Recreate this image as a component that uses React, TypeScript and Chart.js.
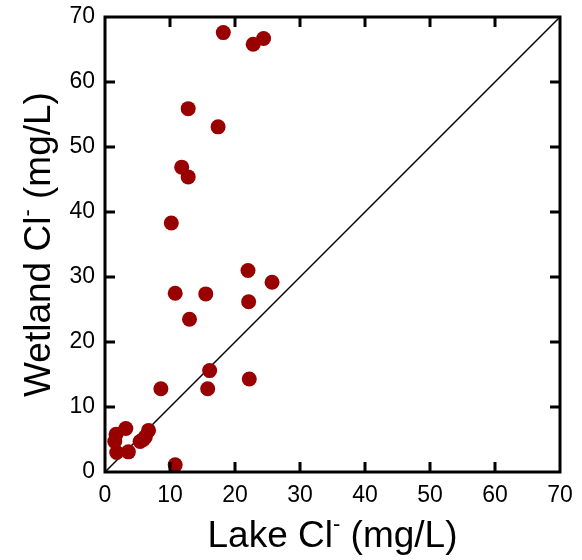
import React, { useEffect, useRef } from "react";
import { Chart, registerables } from "chart.js";

Chart.register(...registerables);

const lakeCl = [18.2, 22.8, 24.4, 12.8, 17.4, 11.8, 12.8, 10.2, 22.0, 25.7, 10.8, 15.5, 22.1, 13.0, 16.1, 22.2, 8.6, 15.8, 10.8, 1.7, 3.2, 1.5, 1.8, 3.6, 5.4, 6.7, 6.2, 5.9];
const wetlandCl = [67.6, 65.8, 66.7, 55.9, 53.1, 46.9, 45.4, 38.3, 31.0, 29.2, 27.5, 27.4, 26.2, 23.5, 15.6, 14.3, 12.8, 12.8, 1.1, 5.8, 6.7, 4.7, 3.0, 3.1, 4.7, 6.4, 5.4, 5.0];
const oneToOneX = [0, 70];
const oneToOneY = [0, 70];
const axisMin = 0;
const axisMax = 70;
const tickValues = [10, 20, 30, 40, 50, 60];
const xTitleParts = ["Lake Cl", "-", " (mg/L)"];
const yTitleParts = ["Wetland Cl", "-", " (mg/L)"];

const FONT = "'Liberation Sans', Arial, sans-serif";

function drawSupTitle(ctx: CanvasRenderingContext2D, parts: string[], size: number) {
  ctx.font = `${size}px ${FONT}`;
  const w0 = ctx.measureText(parts[0]).width;
  const w2 = ctx.measureText(parts[2]).width;
  const supSize = Math.round(size * 0.6);
  ctx.font = `${supSize}px ${FONT}`;
  const w1 = ctx.measureText(parts[1]).width;
  const total = w0 + w1 + w2;
  let x = -total / 2;
  ctx.textAlign = "left";
  ctx.textBaseline = "alphabetic";
  ctx.font = `${size}px ${FONT}`;
  ctx.fillText(parts[0], x, 0);
  x += w0;
  ctx.font = `${supSize}px ${FONT}`;
  ctx.fillText(parts[1], x, -size * 0.42);
  x += w1;
  ctx.font = `${size}px ${FONT}`;
  ctx.fillText(parts[2], x, 0);
}

const framePlugin = {
  id: "framePlugin",
  afterDraw(chart: any) {
    const { ctx, chartArea } = chart;
    const xs = chart.scales.x;
    const ys = chart.scales.y;
    const { left, right, top, bottom } = chartArea;
    ctx.save();
    ctx.strokeStyle = "#000";
    ctx.lineWidth = 3;
    ctx.lineCap = "square";
    ctx.strokeRect(left, top, right - left, bottom - top);
    const tl = 10;
    ctx.beginPath();
    for (const v of tickValues) {
      const px = xs.getPixelForValue(v);
      ctx.moveTo(px, bottom);
      ctx.lineTo(px, bottom - tl);
      ctx.moveTo(px, top);
      ctx.lineTo(px, top + tl);
      const py = ys.getPixelForValue(v);
      ctx.moveTo(left, py);
      ctx.lineTo(left + tl, py);
      ctx.moveTo(right, py);
      ctx.lineTo(right - tl, py);
    }
    ctx.lineCap = "butt";
    ctx.stroke();

    ctx.fillStyle = "#000";
    ctx.save();
    ctx.translate((left + right) / 2, 547);
    drawSupTitle(ctx, xTitleParts, 37);
    ctx.restore();
    ctx.save();
    ctx.translate(50, (top + bottom) / 2);
    ctx.rotate(-Math.PI / 2);
    drawSupTitle(ctx, yTitleParts, 37);
    ctx.restore();
    ctx.restore();
  },
};

export default function App() {
  const ref = useRef<HTMLCanvasElement | null>(null);
  useEffect(() => {
    document.body.style.margin = "0";
    const canvas = ref.current;
    if (!canvas) return;
    const chart = new Chart(canvas, {
      type: "scatter",
      data: {
        datasets: [
          {
            label: "1:1",
            data: oneToOneX.map((x, i) => ({ x, y: oneToOneY[i] })),
            showLine: true,
            borderColor: "#000",
            borderWidth: 1.5,
            pointRadius: 0,
            order: 2,
          },
          {
            label: "Wetland vs Lake",
            data: lakeCl.map((x, i) => ({ x, y: wetlandCl[i] })),
            backgroundColor: "#990000",
            borderColor: "#990000",
            borderWidth: 0,
            pointRadius: 7.5,
            order: 1,
          },
        ],
      },
      options: {
        responsive: false,
        animation: false,
        layout: { padding: { top: 17, right: 22, left: 0, bottom: 0 } },
        plugins: { legend: { display: false }, tooltip: { enabled: false } },
        scales: {
          x: {
            type: "linear",
            min: axisMin,
            max: axisMax,
            ticks: { stepSize: 10, color: "#000", font: { family: FONT, size: 23 }, padding: 10 },
            grid: { display: false, drawTicks: false },
            border: { display: false },
            afterFit: (s: any) => { s.height = 88; s.paddingLeft = 0; s.paddingRight = 0; },
          },
          y: {
            type: "linear",
            min: axisMin,
            max: axisMax,
            ticks: { stepSize: 10, color: "#000", font: { family: FONT, size: 23 }, padding: 10 },
            grid: { display: false, drawTicks: false },
            border: { display: false },
            afterFit: (s: any) => { s.width = 105; s.paddingTop = 0; s.paddingBottom = 0; },
          },
        },
      },
      plugins: [framePlugin],
    });
    return () => chart.destroy();
  }, []);
  return (
    <div style={{ width: 582, height: 560 }}>
      <canvas ref={ref} width={582} height={560} style={{ display: "block" }} />
    </div>
  );
}
